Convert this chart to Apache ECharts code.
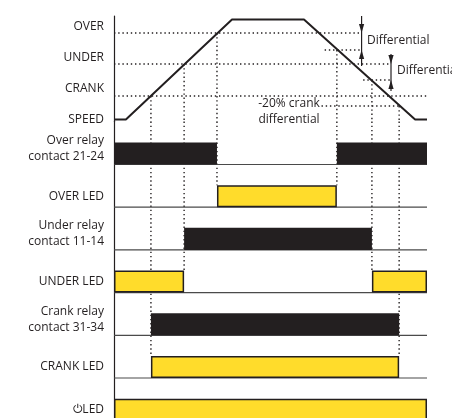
<!DOCTYPE html>
<html><head><meta charset="utf-8">
<script src="https://cdn.jsdelivr.net/npm/echarts@6/dist/echarts.min.js"></script>
<style>html,body{margin:0;padding:0;background:#fff}#c{width:452px;height:418px}</style>
</head><body><div id="c"></div>
<script>
// ---- data ----
// speed levels (top panel, speed above the SPEED baseline, plateau = 100)
const levelNames  = ['OVER', 'UNDER', 'CRANK', 'SPEED'];
const levelValues = [86.5, 55.5, 23.5, 0];
// lower thresholds after the differential: OVER-diff, UNDER-diff, CRANK -20%
const diffValues  = [69.5, 39.5, 13.5];
// speed profile (time 0..100, speed)
const speedTime  = [0, 3.8, 37.7, 60.7, 96.2, 100];
const speedValue = [0, 0, 100, 100, 0, 0];
// switching instants
const riseTimes = [11.8, 22.4, 32.9];   // crank, under, over (rising)
const fallTimes = [71.2, 82.4, 91.1];   // over, under, crank (falling)
// output rows
const rowLabels = ['Over relay\ncontact 21-24', 'OVER LED', 'Under relay\ncontact 11-14',
                   'UNDER LED', 'Crank relay\ncontact 31-34', 'CRANK LED', '\u23FBLED'];
const rowKind   = ['relay', 'led', 'relay', 'led', 'relay', 'led', 'led'];
const rowOn = [
  [[0, 32.9], [71.2, 100]],
  [[32.9, 71.2]],
  [[22.4, 82.4]],
  [[0, 22.4], [82.4, 100]],
  [[11.8, 91.1]],
  [[11.8, 91.1]],
  [[0, 100]]
];
// horizontal dotted reference lines: [level, from, to]
const hLines = [
  [86.5, 0, 79.1], [55.5, 0, 88.5], [23.5, 0, 100],
  [69.5, 67.3, 79.1], [39.5, 79.6, 88.5], [13.5, 66.3, 91.1]
];
// differential dimension arrows: [time, outer top, tip top, tip bottom, outer bottom]
const arrows = [[79.1, 103.5, 86.5, 69.5, 53.5], [88.5, 65.5, 55.5, 39.5, 28.5]];
// vertical dotted lines: [time, speed level, row reached]
const vLines = [
  [riseTimes[0], levelValues[2], 5], [riseTimes[1], levelValues[1], 3], [riseTimes[2], levelValues[0], 1],
  [fallTimes[0], diffValues[0], 1], [fallTimes[1], diffValues[1], 3], [fallTimes[2], diffValues[2], 5]
];

// ---- chart ----
const INK = '#231f20', YEL = '#ffdc2b';
const FONT = 'Open Sans';
const HALF = 0.258;          // half bar height in row units
const ROWMIN = -0.749, ROWMAX = 6.195, SPMIN = -2, SPMAX = 103.5;
const dot = {type: [1.4, 2.8], width: 1.4, color: INK};

const series = [];
hLines.forEach(h => series.push({type: 'line', xAxisIndex: 0, yAxisIndex: 0, data: [[h[1], h[0]], [h[2], h[0]]],
  symbol: 'none', lineStyle: dot, silent: true, z: 1}));
vLines.forEach(v => {
  series.push({type: 'line', xAxisIndex: 0, yAxisIndex: 0, data: [[v[0], v[1]], [v[0], SPMIN]],
    symbol: 'none', lineStyle: dot, silent: true, z: 1});
  series.push({type: 'line', xAxisIndex: 1, yAxisIndex: 1, data: [[v[0], ROWMIN], [v[0], v[2] - HALF]],
    symbol: 'none', lineStyle: dot, silent: true, z: 1});
});
series.push({type: 'line', xAxisIndex: 0, yAxisIndex: 0, data: speedTime.map((t, i) => [t, speedValue[i]]),
  symbol: 'none', lineStyle: {color: INK, width: 2}, z: 5, silent: true});
series.push({type: 'custom', xAxisIndex: 0, yAxisIndex: 0, data: arrows, z: 6, silent: true,
  renderItem: (params, api) => {
    const t = api.value(0);
    const a = api.coord([t, api.value(1)]), b = api.coord([t, api.value(2)]);
    const c = api.coord([t, api.value(3)]), d = api.coord([t, api.value(4)]);
    const L = 9, W = 2.6;
    return {type: 'group', children: [
      {type: 'line', shape: {x1: a[0], y1: a[1], x2: d[0], y2: d[1]}, style: {stroke: INK, lineWidth: 1.2}},
      {type: 'polygon', shape: {points: [[b[0], b[1]], [b[0] - W, b[1] - L], [b[0] + W, b[1] - L]]}, style: {fill: INK}},
      {type: 'polygon', shape: {points: [[c[0], c[1]], [c[0] - W, c[1] + L], [c[0] + W, c[1] + L]]}, style: {fill: INK}}
    ]};
  }});
series.push({type: 'custom', xAxisIndex: 1, yAxisIndex: 1, data: rowLabels.map((_, i) => [i]), z: 2, silent: true,
  renderItem: (params, api) => {
    const r = api.value(0);
    const p0 = api.coord([0, r + HALF]), p1 = api.coord([100, r + HALF]);
    return {type: 'line', shape: {x1: p0[0], y1: p0[1], x2: p1[0], y2: p1[1]}, style: {stroke: '#4a4a4a', lineWidth: 1.2}};
  }});
const barData = [];
rowOn.forEach((iv, r) => iv.forEach(s => barData.push([s[0], s[1], r, rowKind[r] === 'led' ? 1 : 0])));
series.push({type: 'custom', xAxisIndex: 1, yAxisIndex: 1, data: barData, z: 3, silent: true,
  renderItem: (params, api) => {
    const r = api.value(2), led = api.value(3) === 1;
    const p0 = api.coord([api.value(0), r - HALF]), p1 = api.coord([api.value(1), r + HALF]);
    const ins = led ? 0.75 : 0;
    return {type: 'rect', shape: {x: p0[0] + ins, y: p0[1] + ins, width: p1[0] - p0[0] - 2 * ins, height: p1[1] - p0[1] - 2 * ins},
      style: led ? {fill: YEL, stroke: INK, lineWidth: 1.5} : {fill: INK}};
  }});

const labelPos0 = [levelValues[0] + 6, levelValues[1] + 6, levelValues[2] + 7, levelValues[3] - 0.5];
const labelPos1 = rowLabels.map((l, i) => l.indexOf('\n') >= 0 ? i - 0.12 : i);

const option = {
  animation: false,
  backgroundColor: '#fff',
  textStyle: {fontFamily: FONT},
  grid: [
    {left: 114, right: 25, top: 16, height: 105.5},
    {left: 114, right: 25, top: 121.5, bottom: 0}
  ],
  xAxis: [
    {gridIndex: 0, type: 'value', min: 0, max: 100, show: false},
    {gridIndex: 1, type: 'value', min: 0, max: 100, show: false}
  ],
  yAxis: [
    {gridIndex: 0, type: 'value', min: SPMIN, max: SPMAX,
      axisLine: {show: true, lineStyle: {color: INK, width: 1.2}}, axisTick: {show: false}, splitLine: {show: false},
      axisLabel: {customValues: labelPos0, margin: 10, color: INK, fontSize: 12, fontFamily: FONT,
        formatter: v => { let best = 0; labelPos0.forEach((p, i) => { if (Math.abs(p - v) < Math.abs(labelPos0[best] - v)) best = i; }); return levelNames[best]; }}},
    {gridIndex: 1, type: 'value', min: ROWMIN, max: ROWMAX, inverse: true,
      axisLine: {show: true, lineStyle: {color: INK, width: 1.2}}, axisTick: {show: false}, splitLine: {show: false},
      axisLabel: {customValues: labelPos1, margin: 10, color: INK, fontSize: 12, lineHeight: 16, fontFamily: FONT, align: 'right',
        formatter: v => rowLabels[Math.round(v)]}}
  ],
  graphic: [
    {type: 'text', left: 367, top: 35, style: {text: 'Differential', fill: INK, font: '12px "Open Sans"'}},
    {type: 'text', left: 397, top: 65, style: {text: 'Differential', fill: INK, font: '12px "Open Sans"'}},
    {type: 'text', x: 289, y: 96, style: {text: '-20% crank\ndifferential', fill: INK, font: '12px "Open Sans"', align: 'center', lineHeight: 16}}
  ],
  series: series
};
echarts.init(document.getElementById('c'), null, {renderer: 'canvas'}).setOption(option);
</script></body></html>
